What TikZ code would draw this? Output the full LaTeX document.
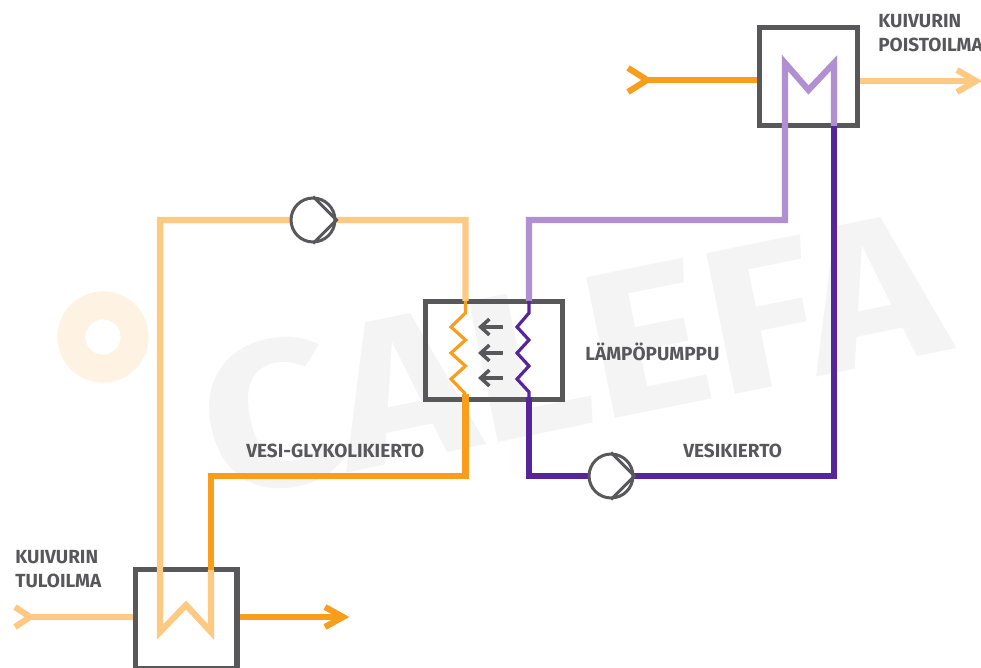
\documentclass[tikz,border=0pt]{standalone}
\usepackage{fontspec}
\setmainfont{Fira Sans}
\usetikzlibrary{arrows.meta,calc}

\definecolor{frameg}{HTML}{58585A}
\definecolor{warmo}{HTML}{F99D1C}
\definecolor{paleo}{HTML}{FDC983}
\definecolor{darkp}{HTML}{56259B}
\definecolor{palep}{HTML}{B08FD3}
\definecolor{markg}{HTML}{F4F4F4}
\definecolor{marko}{HTML}{FEF3E3}

\tikzset{
    unit/.style={draw=frameg, line width=2.9pt, rectangle, inner sep=0pt},
    pump/.style={draw=frameg, line width=1.7pt, circle, fill=white, inner sep=0pt, minimum size=25pt},
    pipe/.style={line width=3.5pt, miter limit=10},
    coil/.style={line width=1.8pt},
    label/.style={text=frameg, font=\bfseries\fontsize{10.8}{13.6}\selectfont, align=left, anchor=west, inner sep=0pt},
    mark text/.style={text=markg, font=\bfseries\fontsize{118}{118}\selectfont, rotate=11.5, xscale=1.12, inner sep=0pt},
}

\begin{document}
\begin{tikzpicture}[x=0.02cm, y=-0.02cm]
    \useasboundingbox (0,0) rectangle (981,668);

    % background mark
    \node[mark text] (markname) at (572,354) {CALEFA};
    \node[circle, draw=marko, line width=16pt, minimum size=36pt, inner sep=0pt] (markring) at (103,337) {};

    % units
    \node[unit, minimum width=56pt, minimum height=56pt] (dryout) at (808.5,76.5) {};
    \node[unit, minimum width=78pt, minimum height=56pt] (heatpump) at (494,350.5) {};
    \node[unit, minimum width=58pt, minimum height=56pt] (dryin) at (186,619) {};

    % junctions
    \coordinate (h1) at (465.5,301);
    \coordinate (h2) at (529,301);
    \coordinate (h3) at (465.5,394);
    \coordinate (h4) at (529,397);
    \coordinate (o2) at (834,126);
    \coordinate (i2) at (211,570);

    % vesi-glykoli circuit
    \draw[pipe, paleo] (h1) |- (160,220) -- (160,632) -- (186,605) -- (211,632) -- (i2);
    \draw[pipe, warmo] (h3) |- (211,476) -- (i2);

    % water circuit
    \draw[pipe, palep] (h2) |- (785,220) -- (785,63) -- (808.5,90) -- (834,63) -- (o2);
    \draw[pipe, darkp] (o2) |- (529,476) -- (h4);

    % pumps
    \node[pump] (pumpglyk) at (313,220) {};
    \node[pump] (pumpwater) at (611,476) {};
    \foreach \p in {pumpglyk, pumpwater}
        \draw[frameg, line width=1.7pt] (\p.north) -- (\p.east) -- (\p.south);

    % coils
    \draw[coil, warmo] (h1) -- (465.5,313) -- (451,327) -- (465.5,340) -- (451,353) -- (465.5,366) -- (451,379) -- (h3);
    \draw[coil, darkp] (h2) -- (529,313) -- (517,327) -- (529,340) -- (517,353) -- (529,366) -- (517,379) -- (529,392) -- (h4);
    \foreach \y in {327,353,378}
        \draw[-{Straight Barb[length=5pt,width=9pt]}, frameg, line width=2pt] (503,\y) -- (478,\y);

    % air lines
    \coordinate (topin) at (647,80);
    \coordinate (topout) at (976,81);
    \coordinate (lowin) at (30,617);
    \coordinate (lowout) at (343,617);
    \draw[pipe, warmo] ([shift={(-19,-12)}]topin) -- (topin) -- ([shift={(-19,12)}]topin);
    \draw[pipe, warmo] (topin) -- (dryout.west |- topin);
    \draw[pipe, paleo] (dryout.east |- topout) -- (topout);
    \draw[pipe, paleo] ([shift={(-19,-11)}]topout) -- (topout) -- ([shift={(-19,11)}]topout);
    \draw[pipe, paleo] ([shift={(-15,-10)}]lowin) -- (lowin) -- ([shift={(-15,10)}]lowin);
    \draw[pipe, paleo] (lowin) -- (dryin.west |- lowin);
    \draw[pipe, warmo] (dryin.east |- lowout) -- (lowout);
    \draw[pipe, warmo] ([shift={(-18,-10)}]lowout) -- (lowout) -- ([shift={(-18,10)}]lowout);

    % labels
    \node[label] (airout) at (878,33) {KUIVURIN\\POISTOILMA};
    \node[label] (airin) at (15,569) {KUIVURIN\\TULOILMA};
    \node[label] (hplabel) at (585,352) {LÄMPÖPUMPPU};
    \node[label] (glyklabel) at (246,451) {VESI-GLYKOLIKIERTO};
    \node[label] (waterlabel) at (683,451) {VESIKIERTO};
\end{tikzpicture}
\end{document}
